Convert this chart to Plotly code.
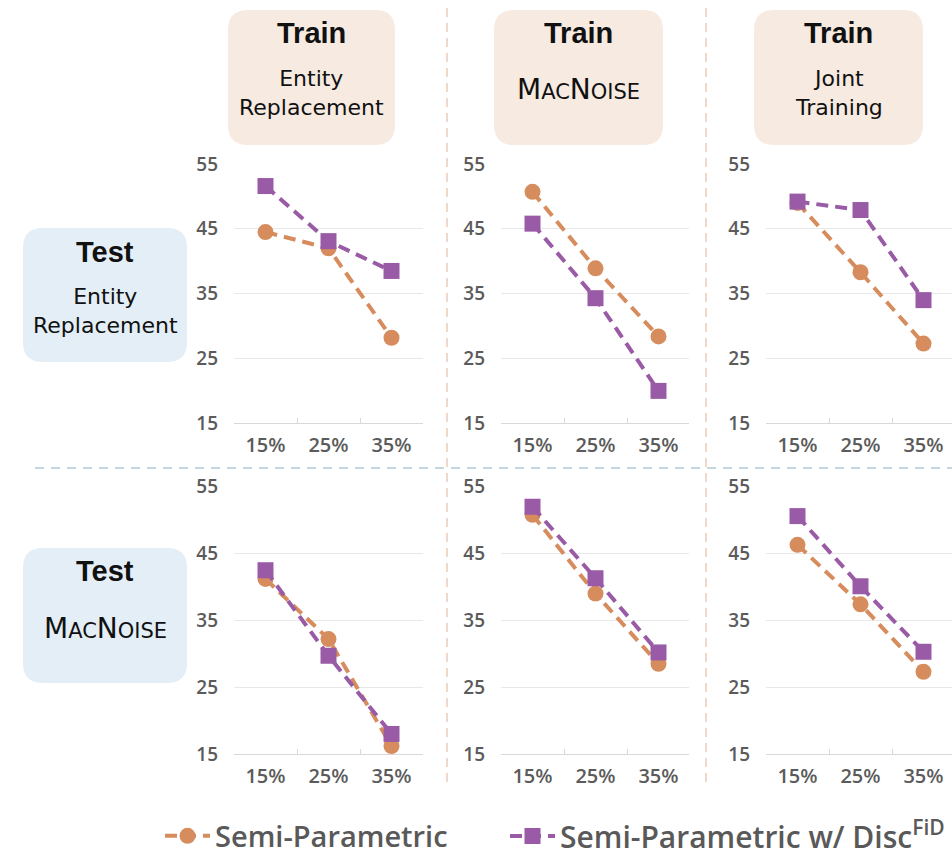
import plotly.graph_objects as go

# ---- data ----------------------------------------------------------------
noise_levels = ["15%", "25%", "35%"]
train_settings = ["Entity<br>Replacement", "MACNOISE", "Joint<br>Training"]
test_settings = ["Entity<br>Replacement", "MACNOISE"]
y_ticks = [15, 25, 35, 45, 55]

# Semi-Parametric (rows: test setting, columns: train setting)
semi_test_entity = [[44.5, 42.0, 28.2], [50.7, 38.9, 28.4], [49.0, 38.3, 27.3]]
semi_test_macnoise = [[41.2, 32.2, 16.2], [50.8, 39.0, 28.5], [46.3, 37.4, 27.3]]
# Semi-Parametric w/ Disc^FiD
disc_test_entity = [[51.6, 43.1, 38.5], [45.8, 34.3, 20.0], [49.2, 47.9, 34.0]]
disc_test_macnoise = [[42.5, 29.7, 18.0], [52.0, 41.3, 30.2], [50.6, 40.1, 30.3]]

semi_rows = [semi_test_entity, semi_test_macnoise]
disc_rows = [disc_test_entity, disc_test_macnoise]

# ---- styling -------------------------------------------------------------
W, H = 952, 853
ORANGE = "#D68C5C"
PURPLE = "#9A5BA6"
TICK_GREY = "#5B5B5B"
GRID = "#E8E8E8"
TRAIN_BG = "#F7EAE1"
TEST_BG = "#E3EEF6"


def px(x):
    return x / W


def py(y):
    return 1 - y / H


# panel geometry in pixels
col_x = [(234, 423), (501, 689), (766, 952)]
row_y = [(164, 423.3), (486.7, 754)]

fig = go.Figure()
tick_font = dict(family="Open Sans", size=19, color=TICK_GREY, weight=600)
xtick_font = dict(tick_font, size=20)

k = 0
for r in range(2):
    for c in range(3):
        k += 1
        xa = "x" if k == 1 else f"x{k}"
        ya = "y" if k == 1 else f"y{k}"
        fig.add_trace(go.Scatter(
            x=noise_levels, y=semi_rows[r][c], xaxis=xa, yaxis=ya,
            mode="lines+markers", name="Semi-Parametric",
            legendgroup="semi", showlegend=(k == 1), legend="legend",
            line=dict(color=ORANGE, width=4, dash="12px,7px"),
            marker=dict(symbol="circle", size=16, color=ORANGE),
            cliponaxis=False,
        ))
        fig.add_trace(go.Scatter(
            x=noise_levels, y=disc_rows[r][c], xaxis=xa, yaxis=ya,
            mode="lines+markers", name="Semi-Parametric w/ Disc<sup>FiD</sup>",
            legendgroup="disc", showlegend=(k == 1), legend="legend2",
            line=dict(color=PURPLE, width=4, dash="12px,7px"),
            marker=dict(symbol="square", size=16, color=PURPLE),
            cliponaxis=False,
        ))
        x0, x1 = col_x[c]
        y0, y1 = row_y[r]
        span = (x1 - x0) / 63.0
        xkey = "xaxis" if k == 1 else f"xaxis{k}"
        ykey = "yaxis" if k == 1 else f"yaxis{k}"
        fig.update_layout({
            xkey: dict(
                domain=[px(x0), px(x1)], anchor=ya, type="category",
                range=[-0.5, -0.5 + span], showgrid=False, zeroline=False,
                showline=True, linecolor="#D9D9D9", linewidth=1,
                ticks="inside", tickson="boundaries", ticklen=5,
                tickcolor="#D9D9D9", tickfont=xtick_font, ticklabelstandoff=4,
                fixedrange=True,
            ),
            ykey: dict(
                domain=[py(y1), py(y0)], anchor=xa, range=[15, 55],
                tickvals=y_ticks, showgrid=True, gridcolor=GRID, gridwidth=1,
                zeroline=False, showline=False, ticks="",
                tickfont=tick_font, ticklabelstandoff=15, fixedrange=True,
            ),
        })


def rounded_box(x0, y0, x1, y1, rad, color):
    rx, ry = rad / W, rad / H
    X0, X1 = px(x0), px(x1)
    Y0, Y1 = py(y0), py(y1)  # Y0 is top
    path = (
        f"M {X0 + rx} {Y0} L {X1 - rx} {Y0} Q {X1} {Y0} {X1} {Y0 - ry} "
        f"L {X1} {Y1 + ry} Q {X1} {Y1} {X1 - rx} {Y1} "
        f"L {X0 + rx} {Y1} Q {X0} {Y1} {X0} {Y1 + ry} "
        f"L {X0} {Y0 - ry} Q {X0} {Y0} {X0 + rx} {Y0} Z"
    )
    return dict(type="path", path=path, xref="paper", yref="paper",
                fillcolor=color, line=dict(width=0), layer="below")


def label_text(s):
    # small-caps rendering of the method name
    if s == "MACNOISE":
        return ("M<span style='font-size:21px'>AC</span>"
                "N<span style='font-size:21px'>OISE</span>")
    return s


shapes = []
annotations = []
head_font = dict(family="Liberation Sans", size=29, color="#111111", weight="bold")
sub_font = dict(family="DejaVu Sans", size=22, color="#111111")


def add_text(x, y, text, font):
    annotations.append(dict(x=x, y=py(y), xref="paper", yref="paper",
                            text=text, showarrow=False, font=font,
                            xanchor="center", yanchor="middle"))


# train header boxes
train_boxes = [(228, 10, 395, 145), (494, 10, 663, 145), (754, 10, 923, 145)]
for (bx0, by0, bx1, by1), name in zip(train_boxes, train_settings):
    shapes.append(rounded_box(bx0, by0, bx1, by1, 20, TRAIN_BG))
    cx = px((bx0 + bx1) / 2)
    add_text(cx, 33, "<b>Train</b>", head_font)
    if "<br>" in name:
        add_text(cx, 93, name, sub_font)
    else:
        add_text(cx, 89, label_text(name), dict(sub_font, size=28))

# test row boxes
test_boxes = [(23, 228, 187, 362), (23, 548, 187, 683)]
test_title_y = [252, 571]
test_sub_y = [311, 628]
for (bx0, by0, bx1, by1), name, ty, sy in zip(test_boxes, test_settings,
                                              test_title_y, test_sub_y):
    shapes.append(rounded_box(bx0, by0, bx1, by1, 20, TEST_BG))
    cx = px((bx0 + bx1) / 2)
    add_text(cx, ty, "<b>Test</b>", head_font)
    if "<br>" in name:
        add_text(cx, sy, name, sub_font)
    else:
        add_text(cx, sy, label_text(name), dict(sub_font, size=28))

# dashed separators between panels
for sx in (447, 706):
    shapes.append(dict(type="line", xref="paper", yref="paper",
                       x0=px(sx), x1=px(sx), y0=py(8), y1=py(782),
                       line=dict(color="#EFD9CA", width=2, dash="9px,6px")))
shapes.append(dict(type="line", xref="paper", yref="paper",
                   x0=px(35), x1=px(952), y0=py(468), y1=py(468),
                   line=dict(color="#C3D7DF", width=2, dash="9px,7px")))

legend_font = dict(family="Open Sans", size=29, color="#595959", weight=600)
legend_common = dict(orientation="h", xanchor="left", yanchor="middle",
                     y=py(836), font=legend_font, itemwidth=45,
                     bgcolor="rgba(0,0,0,0)")

fig.update_layout(
    width=W, height=H,
    margin=dict(l=0, r=0, t=0, b=0, autoexpand=False),
    paper_bgcolor="white", plot_bgcolor="white",
    shapes=shapes, annotations=annotations,
    showlegend=True,
    legend=dict(legend_common, x=px(160)),
    legend2=dict(legend_common, x=px(505), font=dict(legend_font, size=30)),
)

fig.write_html("out.html")
